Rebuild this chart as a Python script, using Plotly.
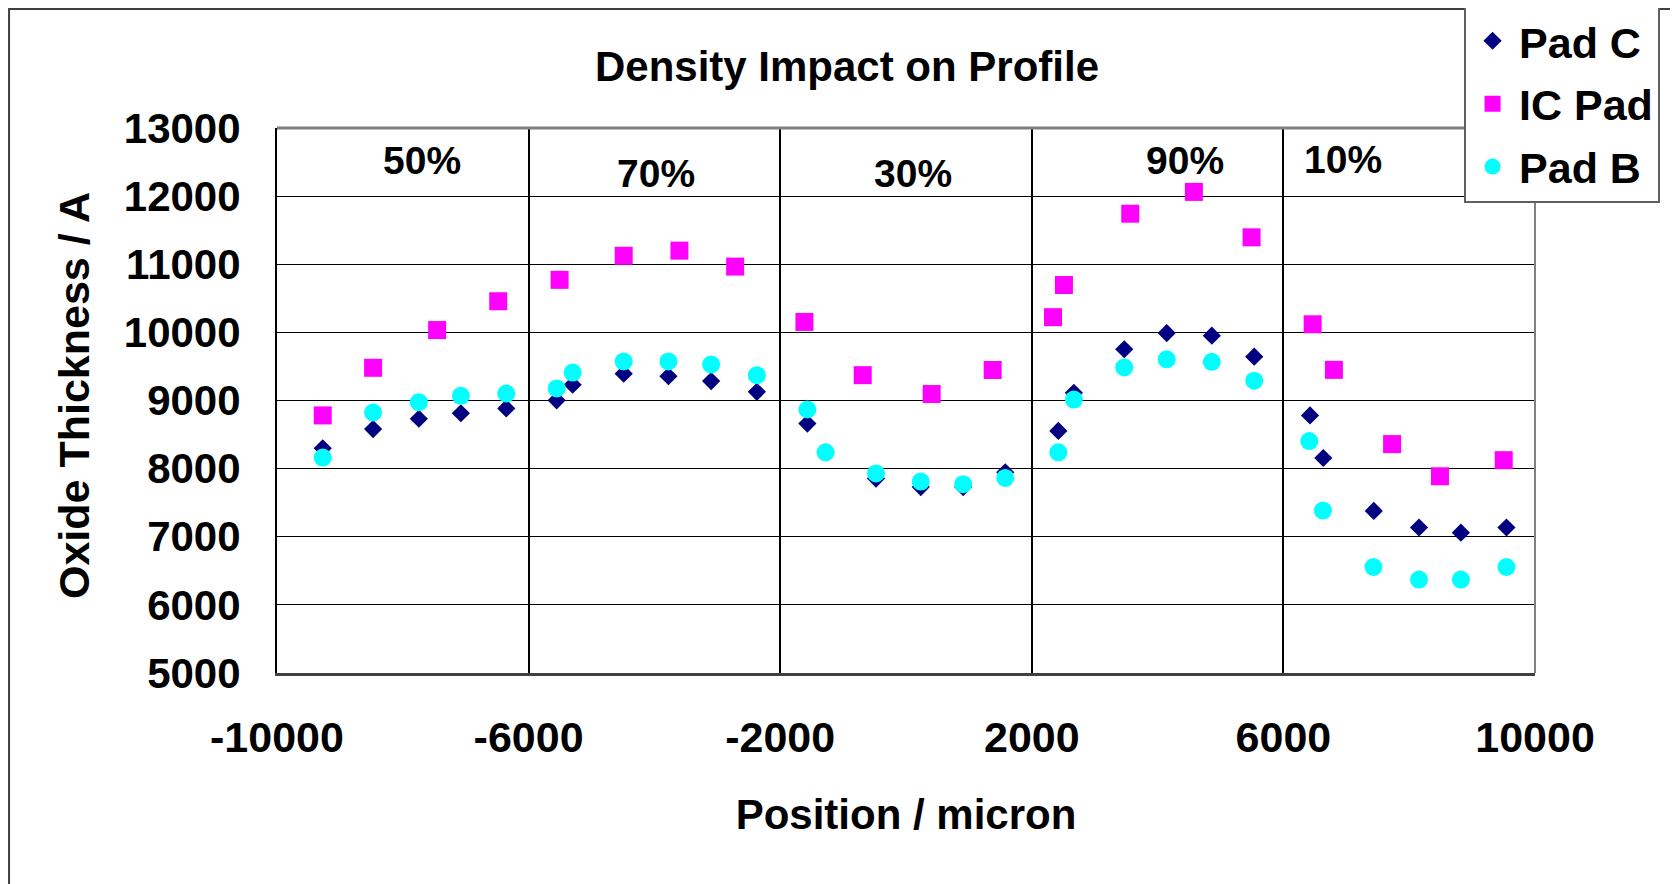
import plotly.graph_objects as go

# Datos (posición en micras, espesor en Å)
PAD_C_X = [-9273, -8472, -7745, -7077, -6355,
           -5554, -5300, -4488, -3777, -3098, -2371,
           -1568, -1278, -477, 235, 909, 1578,
           2422, 2669, 3470, 4145, 4862, 5536,
           6423, 6634, 7437, 8156, 8822, 9546]
PAD_C_Y = [8298, 8580, 8732, 8813, 8884,
           9003, 9231, 9394, 9356, 9285, 9128,
           8662, 8240, 7854, 7729, 7729, 7946,
           8553, 9112, 9752, 9990, 9952, 9643,
           8781, 8156, 7379, 7136, 7060, 7136]

IC_PAD_X = [-9273, -8472, -7454, -6483,
            -5507, -4488, -3602, -2716,
            -1615, -688, 408, 1378,
            2337, 2511, 3565, 4577, 5494,
            6465, 6803, 7728, 8489, 9503]
IC_PAD_Y = [8781, 9480, 10034, 10457,
            10771, 11124, 11200, 10966,
            10153, 9372, 9095, 9448,
            10223, 10695, 11742, 12062, 11395,
            10119, 9450, 8360, 7888, 8124]

PAD_B_X = [-9273, -8472, -7745, -7077, -6355,
           -5554, -5300, -4488, -3777, -3098, -2371,
           -1568, -1278, -477, 235, 909, 1578,
           2422, 2669, 3470, 4145, 4862, 5536,
           6412, 6629, 7432, 8156, 8822, 9546]
PAD_B_Y = [8163, 8824, 8976, 9068, 9101,
           9177, 9410, 9573, 9573, 9529, 9372,
           8868, 8239, 7930, 7810, 7772, 7864,
           8239, 9014, 9486, 9605, 9567, 9291,
           8405, 7385, 6556, 6372, 6372, 6556]

# Etiquetas de densidad por zona
ZONAS = ['50%', '70%', '30%', '90%', '10%']
ZONAS_X = [-7692, -3979, 119, 4440, 6951]
ZONAS_Y = [12528, 12338, 12338, 12528, 12535]

X_TICKS = [-10000, -6000, -2000, 2000, 6000, 10000]
Y_TICKS = list(range(5000, 13001, 1000))

FUENTE = 'Liberation Sans, Arial, sans-serif'


def _fuente(size):
    return dict(family=FUENTE, size=size, color='black', weight='bold')


fig = go.Figure()
fig.add_trace(go.Scatter(
    x=PAD_C_X, y=PAD_C_Y, name='Pad C', mode='markers', legendgroup='c',
    marker=dict(symbol='diamond', size=14, color='#000080'),
))
fig.add_trace(go.Scatter(
    x=IC_PAD_X, y=IC_PAD_Y, name='IC Pad', mode='markers', legendgroup='ic',
    marker=dict(symbol='square', size=18, color='#FF00FF'),
))
fig.add_trace(go.Scatter(
    x=PAD_B_X, y=PAD_B_Y, name='Pad B', mode='markers', legendgroup='b',
    marker=dict(symbol='circle', size=18, color='#00FFFF'),
))

for texto, xv, yv in zip(ZONAS, ZONAS_X, ZONAS_Y):
    fig.add_annotation(x=xv, y=yv, text=texto, showarrow=False, font=_fuente(39))

# Título del eje Y como anotación para fijar su posición
fig.add_annotation(xref='paper', yref='paper', x=-0.1614, y=0.510,
                   xanchor='center', yanchor='middle', textangle=-90,
                   text='Oxide Thickness / A', showarrow=False, font=_fuente(43))

# Marco exterior, borde superior y derecho del área de trazado
fig.add_shape(type='rect', xref='paper', yref='paper', x0=-0.213, x1=1.3, y0=-0.6, y1=1.2185,
              line=dict(color='#404040', width=2), layer='below')
fig.add_shape(type='line', xref='paper', yref='paper', x0=0, x1=1, y0=1, y1=1,
              line=dict(color='#808080', width=3))
fig.add_shape(type='line', xref='paper', yref='paper', x0=1, x1=1, y0=0, y1=1,
              line=dict(color='#808080', width=2))

fig.update_layout(
    width=1678, height=884,
    margin=dict(l=269, r=151, t=120, b=219, autoexpand=False),
    paper_bgcolor='white', plot_bgcolor='white',
    font=_fuente(42),
    title=dict(text='Density Impact on Profile', x=0.5, xanchor='center',
               y=1 - 58 / 884, yanchor='middle', font=_fuente(42)),
    legend=dict(x=0.9436, y=1.227, xanchor='left', yanchor='top',
                bgcolor='white', bordercolor='#606060', borderwidth=2,
                traceorder='grouped', tracegroupgap=4,
                itemwidth=43, font=_fuente(43)),
    showlegend=True,
)
fig.update_xaxes(
    range=[-10000, 10000], tickvals=X_TICKS, ticktext=[str(v) for v in X_TICKS],
    tickfont=_fuente(43),
    showgrid=True, gridcolor='black', gridwidth=2, zeroline=False,
    showline=True, linecolor='#404040', linewidth=3,
    ticks='', ticklabelstandoff=24,
    title=dict(text='Position / micron', standoff=41, font=_fuente(42)),
)
fig.update_yaxes(
    range=[5000, 13000], tickvals=Y_TICKS, ticktext=[str(v) for v in Y_TICKS],
    tickfont=_fuente(42),
    showgrid=True, gridcolor='black', gridwidth=1, zeroline=False,
    showline=True, linecolor='black', linewidth=2,
    ticks='', ticklabelstandoff=26,
)

fig.write_html('out.html')
